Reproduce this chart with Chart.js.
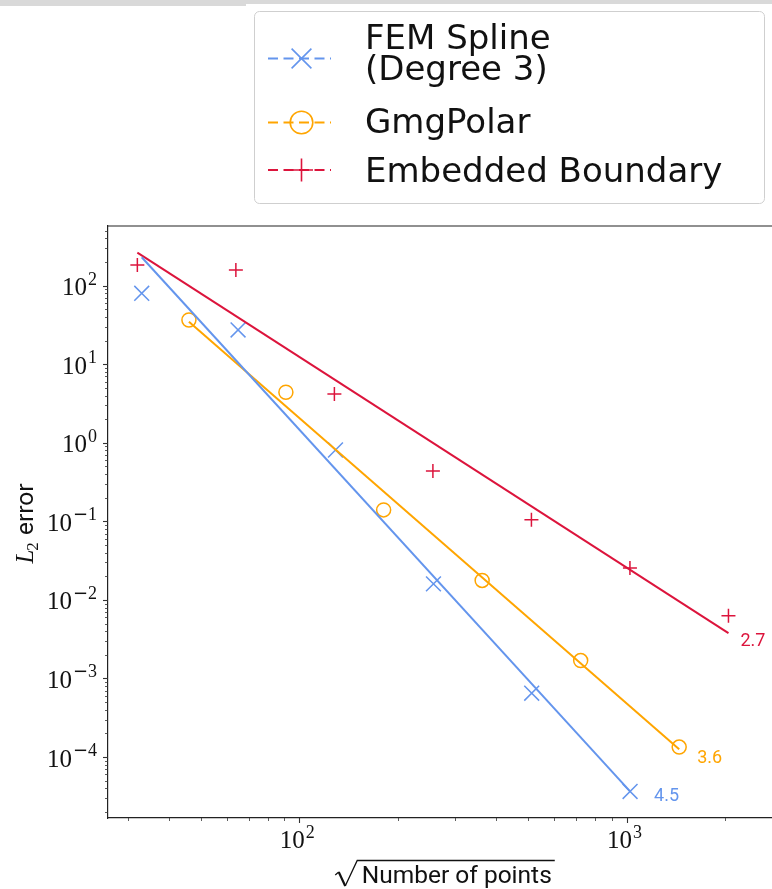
<!DOCTYPE html>
<html>
<head>
<meta charset="utf-8">
<script src="https://cdn.jsdelivr.net/npm/chart.js@4.4.1/dist/chart.umd.min.js"></script>
<style>
  html, body { margin: 0; padding: 0; background: #fff; }
</style>
</head>
<body>
<canvas id="convChart" width="772" height="889"></canvas>
<script>
// sqrt(number of points) and L2 error for each method
const femX = [33, 65, 129, 257, 513, 1025];
const femErr = [80, 27.3, 0.81, 0.016, 6.5e-4, 3.65e-5];
const gmgX = [46, 91, 181, 362, 724, 1448];
const gmgErr = [36.6, 4.4, 0.14, 0.0177, 1.69e-3, 1.34e-4];
const ebX = [32, 64, 128, 256, 512, 1024, 2048];
const ebErr = [183, 158, 4.19, 0.439, 0.1045, 0.0254, 6.28e-3];

// fitted convergence lines (end points) and their orders
const femFitX = [33, 1025];
const femFitErr = [230, 3.65e-5];
const gmgFitX = [46, 1448];
const gmgFitErr = [34.8, 1.26e-4];
const ebFitX = [32, 2048];
const ebFitErr = [263, 3.78e-3];
const orders = ["4.5", "3.6", "2.7"];

const seriesNames = [["FEM Spline", "(Degree 3)"], ["GmgPolar"], ["Embedded Boundary"]];
const xTickExps = [2, 3];
const yTickExps = [-4, -3, -2, -1, 0, 1, 2];

const colors = ["#6495ed", "#ffa500", "#dc143c"];
const markers = ["crossRot", "circle", "cross"];

function toPts(xs, ys) {
  return xs.map((x, i) => ({ x: x, y: ys[i] }));
}

function logTicks(min, max) {
  const out = [];
  for (let e = Math.floor(Math.log10(min)); e <= Math.ceil(Math.log10(max)); e++) {
    for (let m = 1; m < 10; m++) {
      const v = m * Math.pow(10, e);
      if (v >= min && v <= max) out.push({ value: v, major: m === 1 });
    }
  }
  return out;
}

const fitSets = [[femFitX, femFitErr], [gmgFitX, gmgFitErr], [ebFitX, ebFitErr]];
const pointSets = [[femX, femErr], [gmgX, gmgErr], [ebX, ebErr]];
const pointRadii = [10.5, 7, 7];

const datasets = [];
fitSets.forEach((s, i) => {
  datasets.push({
    label: "fit " + i,
    data: toPts(s[0], s[1]),
    showLine: true,
    borderColor: colors[i],
    borderWidth: 2,
    pointRadius: 0,
  });
});
pointSets.forEach((s, i) => {
  datasets.push({
    label: seriesNames[i].join(" "),
    data: toPts(s[0], s[1]),
    showLine: false,
    pointStyle: markers[i],
    pointRadius: pointRadii[i],
    pointBorderWidth: 1.5,
    borderColor: colors[i],
    backgroundColor: "rgba(0,0,0,0)",
  });
});

// small helper to draw legend markers by hand
function drawMarker(ctx, style, x, y, r) {
  ctx.beginPath();
  if (style === "circle") {
    ctx.arc(x, y, r, 0, Math.PI * 2);
  } else if (style === "cross") {
    ctx.moveTo(x - r, y); ctx.lineTo(x + r, y);
    ctx.moveTo(x, y - r); ctx.lineTo(x, y + r);
  } else {
    const d = r * Math.SQRT1_2;
    ctx.moveTo(x - d, y - d); ctx.lineTo(x + d, y + d);
    ctx.moveTo(x + d, y - d); ctx.lineTo(x - d, y + d);
  }
  ctx.stroke();
}

// draws 10^e with its left edge at x, returns nothing; measure() gives width
const baseFont = '25px "Liberation Serif"';
const expFont = '18px "Liberation Serif"';
const minusFont = '18px "DejaVu Sans"';
function powWidth(ctx, e) {
  ctx.font = baseFont;
  let w = ctx.measureText("10").width + 1;
  if (e < 0) {
    ctx.font = minusFont;
    w += ctx.measureText("\u2212").width;
  }
  ctx.font = expFont;
  return w + ctx.measureText(String(Math.abs(e))).width;
}
function drawPow(ctx, e, x, base, raise) {
  ctx.font = baseFont;
  ctx.fillText("10", x, base);
  x += ctx.measureText("10").width + 1;
  if (e < 0) {
    ctx.font = minusFont;
    ctx.fillText("\u2212", x, base - raise);
    x += ctx.measureText("\u2212").width;
  }
  ctx.font = expFont;
  ctx.fillText(String(Math.abs(e)), x, base - raise);
}

const decorPlugin = {
  id: "decor",
  beforeDraw(chart) {
    const ctx = chart.ctx;
    ctx.save();
    ctx.fillStyle = "#d9d9d9";
    ctx.fillRect(0, 0, 246, 6);
    ctx.fillRect(246, 0, 526, 4);
    ctx.restore();
  },
  afterDraw(chart) {
    const ctx = chart.ctx;
    const area = chart.chartArea;
    const xs = chart.scales.x;
    const ys = chart.scales.y;
    ctx.save();

    // top spine
    ctx.strokeStyle = "#222";
    ctx.lineWidth = 1.2;
    ctx.beginPath();
    ctx.moveTo(area.left, area.top);
    ctx.lineTo(area.right, area.top);
    ctx.stroke();

    // tick marks
    ctx.strokeStyle = "#333";
    ys.ticks.forEach((t) => {
      const py = Math.round(ys.getPixelForValue(t.value)) + 0.5;
      ctx.lineWidth = t.major ? 1.1 : 0.8;
      ctx.beginPath();
      ctx.moveTo(area.left, py);
      ctx.lineTo(area.left - (t.major ? 5 : 3), py);
      ctx.stroke();
    });
    xs.ticks.forEach((t) => {
      const px = Math.round(xs.getPixelForValue(t.value)) + 0.5;
      ctx.lineWidth = t.major ? 1.1 : 0.8;
      ctx.beginPath();
      ctx.moveTo(px, area.bottom);
      ctx.lineTo(px, area.bottom + (t.major ? 5 : 3));
      ctx.stroke();
    });

    // tick labels 10^k
    ctx.fillStyle = "#111";
    ctx.textBaseline = "alphabetic";
    ctx.textAlign = "left";
    yTickExps.forEach((e) => {
      const py = ys.getPixelForValue(Math.pow(10, e));
      const w = powWidth(ctx, e);
      drawPow(ctx, e, area.left - 11 - w, py + 9.5, 10.5);
    });
    xTickExps.forEach((e) => {
      const px = xs.getPixelForValue(Math.pow(10, e));
      const w = powWidth(ctx, e);
      drawPow(ctx, e, px - 2 - w / 2, area.bottom + 30, 10);
    });

    // order labels next to the fit lines
    const offs = [[24, 5.5], [18, 9], [12, 8.5]];
    ctx.font = '18px Roboto';
    ctx.textBaseline = "middle";
    fitSets.forEach((s, i) => {
      const n = s[0].length - 1;
      const px = xs.getPixelForValue(s[0][n]);
      const py = ys.getPixelForValue(s[1][n]);
      ctx.fillStyle = colors[i];
      ctx.fillText(orders[i], px + offs[i][0], py + offs[i][1]);
    });

    // x title: sqrt(Number of points)
    ctx.fillStyle = "#111";
    ctx.textBaseline = "alphabetic";
    ctx.font = '24.5px Roboto';
    const title = "Number of points";
    const w = ctx.measureText(title).width;
    const cx = (area.left + area.right) / 2 + 5;
    const x0 = cx - (26.5 + w + 3) / 2;
    const ty = area.bottom + 65;
    ctx.fillText(title, x0 + 26.5, ty);
    ctx.strokeStyle = "#111";
    ctx.lineWidth = 1.2;
    ctx.beginPath();
    ctx.moveTo(x0, ty - 8);
    ctx.lineTo(x0 + 3.5, ty - 11);
    ctx.stroke();
    ctx.lineWidth = 2.2;
    ctx.beginPath();
    ctx.moveTo(x0 + 3.5, ty - 11);
    ctx.lineTo(x0 + 10, ty + 3);
    ctx.stroke();
    ctx.lineWidth = 1.3;
    ctx.beginPath();
    ctx.moveTo(x0 + 10, ty + 3);
    ctx.lineTo(x0 + 22, ty - 22.5);
    ctx.lineTo(x0 + 26.5 + w + 3, ty - 22.5);
    ctx.stroke();

    // y title: L_2 error
    const yc = (area.top + area.bottom) / 2 + 1.5;
    ctx.translate(33, yc);
    ctx.rotate(-Math.PI / 2);
    ctx.font = 'italic 25px "Liberation Serif"';
    const wL = ctx.measureText("L").width;
    ctx.font = '17px "Liberation Serif"';
    const w2 = ctx.measureText("2").width;
    ctx.font = '24.5px Roboto';
    const w3 = ctx.measureText(" error").width;
    let lx = -(wL + w2 + w3) / 2;
    ctx.font = 'italic 25px "Liberation Serif"';
    ctx.fillText("L", lx, 0);
    ctx.font = '17px "Liberation Serif"';
    ctx.fillText("2", lx + wL - 1, 4.5);
    ctx.font = '24.5px Roboto';
    ctx.fillText(" error", lx + wL + w2, 0);
    ctx.restore();

    // legend box
    ctx.save();
    ctx.beginPath();
    ctx.roundRect(254.5, 11.5, 510, 192, 5);
    ctx.fillStyle = "rgba(255,255,255,0.85)";
    ctx.fill();
    ctx.strokeStyle = "#cfcfcf";
    ctx.lineWidth = 1;
    ctx.stroke();

    const rowMarkerY = [58.5, 122.5, 170];
    const rowBase = [[49, 80], [133], [182]];
    const legRadii = [14, 11.3, 11.5];
    ctx.font = '34px "DejaVu Sans"';
    ctx.textBaseline = "alphabetic";
    seriesNames.forEach((lines, i) => {
      ctx.strokeStyle = colors[i];
      ctx.lineWidth = 2;
      ctx.setLineDash([10, 5.5]);
      ctx.beginPath();
      ctx.moveTo(268, rowMarkerY[i]);
      ctx.lineTo(331, rowMarkerY[i]);
      ctx.stroke();
      ctx.setLineDash([]);
      ctx.lineWidth = 1.6;
      drawMarker(ctx, markers[i], 301.5, rowMarkerY[i], legRadii[i]);
      ctx.fillStyle = "#111";
      lines.forEach((txt, k) => ctx.fillText(txt, 365, rowBase[i][k]));
    });
    ctx.restore();
  },
};

const config = {
  type: "scatter",
  data: { datasets: datasets },
  options: {
    responsive: false,
    animation: false,
    layout: { autoPadding: false, padding: { top: 226, right: 0, left: 0, bottom: 0 } },
    plugins: {
      legend: { display: false },
      tooltip: { enabled: false },
    },
    scales: {
      x: {
        type: "logarithmic",
        position: "bottom",
        min: 26.03,
        max: 2782,
        grid: { display: false },
        border: { display: true, color: "#222", width: 1.2 },
        ticks: { display: false },
        afterBuildTicks: (axis) => { axis.ticks = logTicks(axis.min, axis.max); },
        afterFit: (axis) => { axis.height = 71; },
      },
      y: {
        type: "logarithmic",
        position: "left",
        min: 1.675e-5,
        max: 575,
        grid: { display: false },
        border: { display: true, color: "#222", width: 1.2 },
        ticks: { display: false },
        afterBuildTicks: (axis) => { axis.ticks = logTicks(axis.min, axis.max); },
        afterFit: (axis) => { axis.width = 108; },
      },
    },
  },
  plugins: [decorPlugin],
};

const convChart = new Chart(document.getElementById("convChart"), config);
</script>
</body>
</html>
